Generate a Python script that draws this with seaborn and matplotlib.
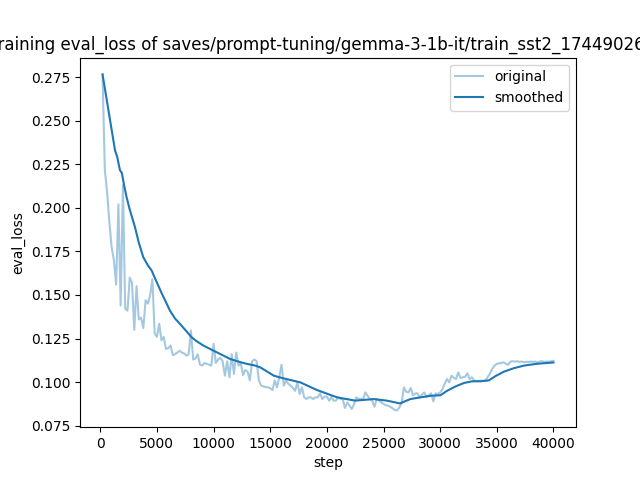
import matplotlib
matplotlib.use("Agg")
import matplotlib.pyplot as plt
import seaborn as sns
import pandas as pd

title_text = "training eval_loss of saves/prompt-tuning/gemma-3-1b-it/train_sst2_1744902638"

steps = list(range(200, 40001, 200))
original = [
    0.2765, 0.222, 0.209, 0.192, 0.1775, 0.170, 0.156, 0.202, 0.144, 0.213,
    0.142, 0.141, 0.160, 0.157, 0.130, 0.155, 0.136, 0.137, 0.131, 0.147,
    0.145, 0.150, 0.159, 0.128, 0.126, 0.1335, 0.124, 0.126, 0.119, 0.1195,
    0.121, 0.1155, 0.116, 0.117, 0.118, 0.117, 0.1165, 0.1152, 0.116, 0.1296,
    0.113, 0.1135, 0.116, 0.110, 0.1095, 0.111, 0.1105, 0.110, 0.1095, 0.122,
    0.111, 0.113, 0.114, 0.112, 0.1037, 0.112, 0.1028, 0.116, 0.1047, 0.117,
    0.1095, 0.111, 0.104, 0.107, 0.106, 0.101, 0.112, 0.113, 0.112, 0.101,
    0.098, 0.0975, 0.0972, 0.097, 0.0965, 0.0955, 0.101, 0.097, 0.1028, 0.110,
    0.098, 0.1009, 0.099, 0.098, 0.0967, 0.095, 0.0999, 0.0932, 0.097, 0.0913,
    0.0903, 0.0913, 0.0913, 0.0903, 0.0913, 0.0913, 0.0936, 0.0903, 0.0917, 0.0917,
    0.0894, 0.0913, 0.0894, 0.0894, 0.0913, 0.0903, 0.0903, 0.0852, 0.0884, 0.0865,
    0.0846, 0.0875, 0.0913, 0.0903, 0.0905, 0.0903, 0.0941, 0.0922, 0.0903, 0.0894,
    0.0859, 0.0903, 0.0894, 0.0885, 0.0875, 0.0868, 0.0865, 0.0859, 0.0850, 0.0840,
    0.0838, 0.0855, 0.088, 0.097, 0.0945, 0.0941, 0.0967, 0.0925, 0.0935, 0.0936,
    0.0911, 0.093, 0.0941, 0.0915, 0.0925, 0.0936, 0.0890, 0.0936, 0.0932, 0.0941,
    0.096, 0.099, 0.1018, 0.0999, 0.1037, 0.1025, 0.1018, 0.1056, 0.1024, 0.1028,
    0.103, 0.1051, 0.1018, 0.1028, 0.101, 0.1005, 0.1008, 0.1009, 0.1008, 0.1009,
    0.103, 0.105, 0.1076, 0.1095, 0.1105, 0.1108, 0.111, 0.1114, 0.1105, 0.110,
    0.1118, 0.112, 0.1118, 0.112, 0.1116, 0.1118, 0.1114, 0.1117, 0.1115, 0.1118,
    0.1116, 0.1118, 0.1114, 0.1119, 0.112, 0.1116, 0.1118, 0.1117, 0.112, 0.1122,
]

smooth_steps = [
    200, 1300, 1500, 1733, 1900, 2100, 2325, 2600, 3059, 3400, 3793, 4200, 4536,
    4800, 5420, 6154, 6596, 7038, 8072, 8500, 9098, 9982, 11459, 12343, 12935,
    13670, 14112, 15323, 16030, 17648, 19120, 20890, 22510, 24130, 25310, 26440,
    27370, 28260, 29200, 30027, 30600, 31344, 32087, 32830, 33563, 34297, 34890,
    35623, 36500, 37400, 38500, 40000,
]
smoothed = [
    0.2765, 0.233, 0.229, 0.2216, 0.220, 0.213, 0.206, 0.199, 0.189, 0.180,
    0.1717, 0.167, 0.164, 0.160, 0.151, 0.141, 0.1365, 0.1334, 0.1257, 0.1235,
    0.121, 0.1181, 0.1133, 0.1115, 0.1105, 0.1095, 0.1085, 0.1037, 0.1024,
    0.0999, 0.0955, 0.0913, 0.0894, 0.0903, 0.0894, 0.0878, 0.0903, 0.0913,
    0.0922, 0.0925, 0.095, 0.0975, 0.0995, 0.1005, 0.1005, 0.101, 0.1035,
    0.106, 0.108, 0.1095, 0.1105, 0.1113,
]

df_orig = pd.DataFrame({"step": steps, "eval_loss": original})
df_smooth = pd.DataFrame({"step": smooth_steps, "eval_loss": smoothed})

fig, ax = plt.subplots(figsize=(6.4, 4.8), dpi=100)
sns.lineplot(data=df_orig, x="step", y="eval_loss", ax=ax, color="#1f77b4",
             alpha=0.4, label="original")
sns.lineplot(data=df_smooth, x="step", y="eval_loss", ax=ax, color="#1f77b4",
             label="smoothed")
ax.set_title(title_text)
ax.set_xlabel("step")
ax.set_ylabel("eval_loss")
ax.legend(loc="upper right")
fig.savefig("out.png", dpi=100)
